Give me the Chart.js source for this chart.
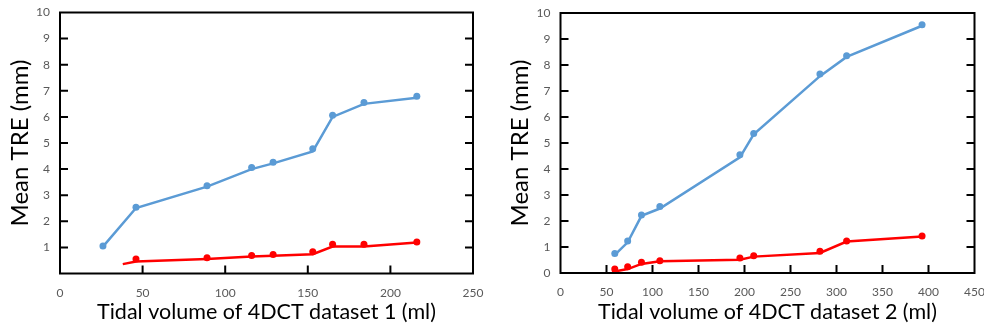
<!DOCTYPE html>
<html>
<head>
<meta charset="utf-8">
<script src="https://cdn.jsdelivr.net/npm/chart.js@4.4.1/dist/chart.umd.min.js"></script>
<style>
  html, body { margin: 0; padding: 0; background: #fff; }
  .wrap { position: absolute; top: 0; width: 492px; height: 332px; }
  #w1 { left: 0; }
  #w2 { left: 492px; }
</style>
</head>
<body>
<div class="wrap" id="w1"><canvas id="c1"></canvas></div>
<div class="wrap" id="w2"><canvas id="c2"></canvas></div>
<script>
// dataset 1 - measured points
const vol1 = [26, 46, 89, 116, 129, 153, 165, 184, 216];
const tre1Blue = [1.05, 2.54, 3.36, 4.06, 4.26, 4.78, 6.06, 6.55, 6.79];
const tre1Red = [null, 0.56, 0.60, 0.69, 0.73, 0.83, 1.12, 1.12, 1.21];
// dataset 1 - trend lines
const fit1BlueVol = [26, 46, 89, 116, 129, 153, 165, 184, 216];
const fit1Blue = [1.03, 2.51, 3.33, 4.0, 4.22, 4.68, 6.0, 6.5, 6.73];
const fit1RedVol = [38, 46, 89, 116, 129, 153, 165, 184, 216];
const fit1Red = [0.36, 0.46, 0.56, 0.65, 0.68, 0.74, 1.03, 1.03, 1.19];

// dataset 2 - measured points
const vol2 = [59, 73, 88, 108, 195, 210, 282, 311, 393];
const tre2Blue = [0.75, 1.23, 2.23, 2.56, 4.55, 5.37, 7.65, 8.36, 9.55];
const tre2Red = [0.15, 0.24, 0.41, 0.47, 0.58, 0.66, 0.84, 1.23, 1.42];
// dataset 2 - trend lines
const fit2BlueVol = [59, 73, 88, 108, 195, 210, 282, 311, 393];
const fit2Blue = [0.70, 1.18, 2.2, 2.48, 4.45, 5.33, 7.57, 8.31, 9.51];
const fit2RedVol = [56, 73, 88, 108, 195, 210, 282, 311, 393];
const fit2Red = [0.04, 0.15, 0.35, 0.45, 0.51, 0.63, 0.77, 1.21, 1.4];

const BLUE = "#5b9bd5";
const RED = "#ff0000";

function pts(xs, ys) {
  return xs.map((x, i) => ({ x: x, y: ys[i] })).filter(p => p.y !== null);
}

// box + inward tick marks
const boxTicks = {
  id: "boxTicks",
  afterDraw(chart) {
    const ctx = chart.ctx;
    const a = chart.chartArea;
    const xs = chart.scales.x;
    const ys = chart.scales.y;
    ctx.save();
    ctx.strokeStyle = "#000";
    ctx.lineWidth = 2;
    ctx.strokeRect(a.left, a.top, a.right - a.left, a.bottom - a.top);
    const len = 8;
    ctx.beginPath();
    for (let v = 1; v < 10; v++) {
      const y = ys.getPixelForValue(v);
      ctx.moveTo(a.left, y); ctx.lineTo(a.left + len, y);
      ctx.moveTo(a.right, y); ctx.lineTo(a.right - len, y);
    }
    for (let v = 50; v < xs.max; v += 50) {
      const x = xs.getPixelForValue(v);
      ctx.moveTo(x, a.bottom); ctx.lineTo(x, a.bottom - len);
    }
    ctx.stroke();
    ctx.restore();
  }
};

function makeChart(id, cfg) {
  return new Chart(document.getElementById(id), {
    type: "scatter",
    data: {
      datasets: [
        { data: pts(cfg.fitBlueVol, cfg.fitBlue), showLine: true, borderColor: BLUE, borderWidth: 2.5, pointRadius: 0, tension: 0 },
        { data: pts(cfg.fitRedVol, cfg.fitRed), showLine: true, borderColor: RED, borderWidth: 2.5, pointRadius: 0, tension: 0 },
        { data: pts(cfg.vol, cfg.blue), pointRadius: 3.5, backgroundColor: BLUE, borderColor: BLUE, borderWidth: 0 },
        { data: pts(cfg.vol, cfg.red), pointRadius: 3.5, backgroundColor: RED, borderColor: RED, borderWidth: 0 }
      ]
    },
    plugins: [boxTicks],
    options: {
      responsive: true,
      maintainAspectRatio: false,
      animation: false,
      layout: { padding: { left: 0, right: cfg.padRight, top: cfg.padTop, bottom: 0 } },
      plugins: { legend: { display: false }, tooltip: { enabled: false } },
      scales: {
        x: {
          type: "linear",
          min: 0,
          max: cfg.xMax,
          afterFit: s => { s.height = cfg.xHeight; s.paddingLeft = 0; s.paddingRight = 0; },
          grid: { display: false, drawTicks: false },
          border: { display: false },
          ticks: { stepSize: 50, padding: 12, color: "#595959", font: { family: "Lato", size: 12 } },
          title: { display: true, text: cfg.xTitle, color: "#000", padding: { top: 0, bottom: 7 }, font: { family: "Lato", size: 21.5 } }
        },
        y: {
          min: 0,
          max: 10,
          afterFit: s => { s.width = cfg.yWidth; s.paddingTop = 0; s.paddingBottom = 0; },
          grid: { display: false, drawTicks: false },
          border: { display: false },
          ticks: {
            stepSize: 1,
            padding: 10,
            color: "#595959",
            font: { family: "Lato", size: 12 },
            callback: v => (v === 0 && !cfg.showZero) ? "" : v
          },
          title: { display: true, text: "Mean TRE (mm)", color: "#000", padding: { top: cfg.yTitlePad, bottom: 0 }, font: { family: "Lato", size: 24 } }
        }
      }
    }
  });
}

makeChart("c1", {
  vol: vol1, blue: tre1Blue, red: tre1Red,
  fitBlueVol: fit1BlueVol, fitBlue: fit1Blue, fitRedVol: fit1RedVol, fitRed: fit1Red,
  xMax: 250, xTitle: "Tidal volume of 4DCT dataset 1 (ml)",
  padRight: 19, padTop: 12.5, xHeight: 58.5, yWidth: 60, yTitlePad: 6, showZero: false
});

makeChart("c2", {
  vol: vol2, blue: tre2Blue, red: tre2Red,
  fitBlueVol: fit2BlueVol, fitBlue: fit2Blue, fitRedVol: fit2RedVol, fitRed: fit2Red,
  xMax: 450, xTitle: "Tidal volume of 4DCT dataset 2 (ml)",
  padRight: 9.5, padTop: 13, xHeight: 59, yWidth: 68.5, yTitlePad: 14, showZero: true
});
</script>
</body>
</html>
